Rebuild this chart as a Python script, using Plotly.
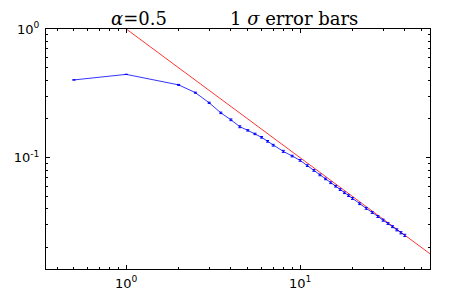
import plotly.graph_objects as go

# blue series (measured) with 1-sigma errors
x_vals = [0.5, 1, 2, 2.5, 3, 3.5, 4, 4.5, 5, 5.5, 6, 6.5, 7, 8, 9, 10, 11, 12, 13, 14,
          15, 16, 17, 18, 19, 20, 22, 24, 26, 28, 30, 32, 34, 36, 38, 40]
y_vals = [0.402, 0.444, 0.368, 0.320, 0.267, 0.223, 0.197, 0.174, 0.163, 0.153, 0.144,
          0.134, 0.125, 0.112, 0.103, 0.0953, 0.0868, 0.0796, 0.0735, 0.0684, 0.0639,
          0.0600, 0.0565, 0.0534, 0.0507, 0.0482, 0.0439, 0.0404, 0.0375, 0.0349,
          0.0327, 0.0308, 0.0291, 0.0275, 0.0261, 0.0249]
y_err = [0.001, 0.001, 0.003, 0.003, 0.003, 0.003, 0.003, 0.003, 0.002, 0.002, 0.002,
         0.002, 0.002, 0.002, 0.0015, 0.0015, 0.0013, 0.0012, 0.0011, 0.001, 0.001,
         0.0009, 0.0009, 0.0008, 0.0008, 0.0008, 0.0007, 0.0007, 0.0006, 0.0006,
         0.0006, 0.0005, 0.0005, 0.0005, 0.0005, 0.0005]

# reference power law 1/x
ref_x = [1, 60]
ref_y = [1, 0.016667]

x_tick_vals = [1, 10]
x_tick_text = ["10<sup>0</sup>", "10<sup>1</sup>"]
y_tick_vals = [1, 0.1]
y_tick_text = ["10<sup>0</sup>", "10<sup>-1</sup>"]

fig = go.Figure()
fig.add_trace(go.Scatter(
    x=ref_x, y=ref_y, mode="lines",
    line=dict(color="#ff0000", width=0.8), showlegend=False))
fig.add_trace(go.Scatter(
    x=x_vals, y=y_vals, mode="lines",
    line=dict(color="#0000ff", width=0.8),
    error_y=dict(type="data", array=y_err, color="#0000ff", thickness=1, width=1.5),
    showlegend=False))

axis_common = dict(
    type="log", showgrid=False, zeroline=False, automargin=False,
    showline=True, linecolor="black", linewidth=1, mirror="allticks",
    ticks="inside", ticklen=4, tickcolor="black", tickwidth=1,
    tickfont=dict(family="DejaVu Sans", size=13, color="black"),
    minor=dict(ticks="inside", ticklen=2, tickcolor="black", tickwidth=1,
               showgrid=False, dtick="D1"),
)

fig.update_xaxes(range=[-0.4615, 1.747], tickvals=x_tick_vals, ticktext=x_tick_text,
                 ticklabelstandoff=2, **axis_common)
fig.update_yaxes(range=[-1.865, 0], tickvals=y_tick_vals, ticktext=y_tick_text,
                 ticklabelstandoff=3, **axis_common)

title_font = dict(family="DejaVu Serif", size=18, color="black")
fig.add_annotation(text="<i>α</i>=0.5", xref="x domain", yref="y domain",
                   x=(139 - 46) / (430 - 46), y=1.0, yshift=11, yanchor="middle",
                   xanchor="center", showarrow=False, font=title_font)
fig.add_annotation(text="1&nbsp;<i>σ</i>&nbsp;error bars", xref="x domain",
                   yref="y domain", x=(294 - 46) / (430 - 46), y=1.0, yshift=11,
                   xanchor="center", yanchor="middle", showarrow=False, font=title_font)

# page body has an 8px margin; size the figure so the plot area lands where it should
fig.update_layout(
    width=444, height=282,
    margin=dict(l=38, r=22, t=21, b=21),
    paper_bgcolor="white", plot_bgcolor="white",
)

fig.write_html("out.html")
